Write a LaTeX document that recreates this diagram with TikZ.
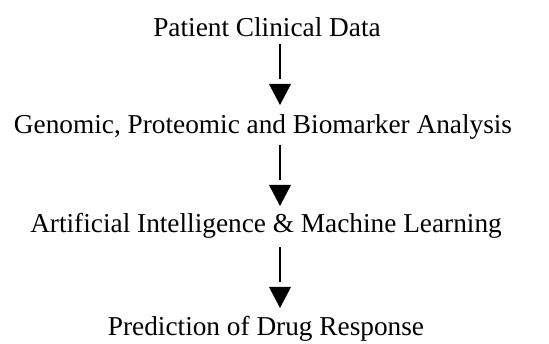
\documentclass[tikz,border=0pt]{standalone}
\usepackage{fontspec}
\setmainfont{Liberation Serif}
\begin{document}
\begin{tikzpicture}[x=1pt,y=1pt,
  lbl/.style={anchor=base,inner sep=0pt,font=\fontsize{27.3}{33}\selectfont},
  shaft/.style={line width=2.7pt},
  head/.style={fill=black}]
\useasboundingbox (0,0) rectangle (549,344);
\node[lbl] (t1) at (267,344-37) {Patient Clinical Data};
\node[lbl] (t2) at (263,344-134) {Genomic, Proteomic and Biomarker Analysis};
\node[lbl] (t3) at (266,344-233) {Artificial Intelligence \& Machine Learning};
\node[lbl] (t4) at (266,344-336) {Prediction of Drug Response};
% arrows: shaft start, shaft end, head top, tip
\foreach \i/\y in {1/44,2/145,3/247}{
  \coordinate (s\i) at (280,344-\y);
  \coordinate (e\i) at (280,344-\y-35);
  \coordinate (h\i) at (280,344-\y-40);
  \coordinate (p\i) at (280,344-\y-61);
}
\draw[shaft] (s1) -- (e1);
\draw[shaft] (s2) -- (e2);
\draw[shaft] (s3) -- (e3);
\foreach \i in {1,2,3}{
  \fill[head] ([xshift=-11pt]h\i) -- ([xshift=11pt]h\i) -- (p\i) -- cycle;
}
\end{tikzpicture}
\end{document}
